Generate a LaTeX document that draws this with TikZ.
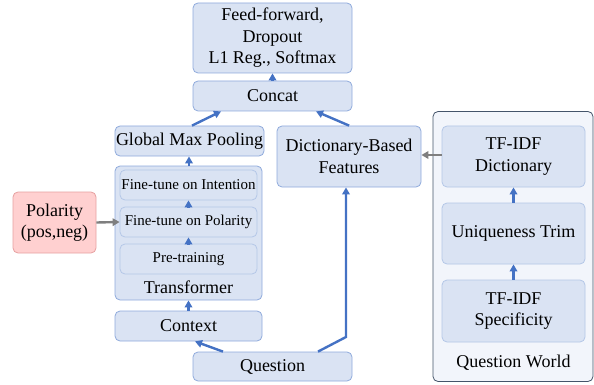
\documentclass[tikz,border=0pt]{standalone}
\usepackage{fontspec}
\newfontfamily\tnr{LiberationSerif}[Extension=.ttf, UprightFont=*-Regular, BoldFont=*-Bold]
\usetikzlibrary{arrows.meta}
\definecolor{boxfill}{HTML}{DAE3F3}
\definecolor{boxline}{HTML}{8FAADC}
\definecolor{innerline}{HTML}{B4C7E7}
\definecolor{polfill}{HTML}{FFD0D0}
\definecolor{polline}{HTML}{E6A0A0}
\definecolor{qwfill}{HTML}{F2F5FB}
\definecolor{qwline}{HTML}{44546A}
\definecolor{arrblue}{HTML}{4472C4}
\definecolor{arrgray}{HTML}{7F7F7F}
\tikzset{
  box/.style={draw=boxline, fill=boxfill, rounded corners=5pt, line width=0.8pt,
    inner sep=0pt, align=center, font=\tnr\fontsize{18}{21.5}\selectfont},
  innerbox/.style={box, draw=innerline, font=\tnr\fontsize{15}{17}\selectfont},
  lbl/.style={font=\tnr\fontsize{18}{20}\selectfont, inner sep=0pt},
  bluearr/.style={draw=arrblue, line width=2.4pt, -{Triangle[length=7pt,width=7.5pt]}},
  grayarr/.style={draw=arrgray, line width=2.4pt, -{Triangle[length=7pt,width=7.5pt]}},
}
\begin{document}
\begin{tikzpicture}[x=1pt,y=-1pt]
\useasboundingbox (0,0) rectangle (594,385);
% top column
\node[box, minimum width=159pt, minimum height=70pt] (ff) at (272.5,38) {Feed-forward,\\Dropout\\L1 Reg., Softmax};
\node[box, minimum width=159pt, minimum height=30pt] (concat) at (272.5,96) {Concat};
\node[box, minimum width=149pt, minimum height=30pt] (gmp) at (189.5,141) {Global Max Pooling};
% transformer
\node[box, minimum width=147pt, minimum height=134pt] (trans) at (188.5,233) {};
\node[lbl] (translabel) at (188.5,287) {Transformer};
\node[innerbox, minimum width=137pt, minimum height=30pt] (fti) at (188.5,185) {Fine-tune on Intention};
\node[innerbox, minimum width=137pt, minimum height=30pt] (ftp) at (188.5,222) {Fine-tune on Polarity};
\node[innerbox, minimum width=137pt, minimum height=30pt] (pre) at (188.5,259) {Pre-training};
\node[box, minimum width=147pt, minimum height=30pt] (context) at (188.5,326) {Context};
\node[box, minimum width=159pt, minimum height=29pt] (question) at (272.5,366.5) {Question};
% polarity
\node[box, draw=polline, fill=polfill, minimum width=83pt, minimum height=61pt] (polarity) at (54.5,222.5) {Polarity\\(pos,neg)};
% dictionary features
\node[box, minimum width=144pt, minimum height=61pt] (dbf) at (349,156.5) {Dictionary-Based\\Features};
% question world
\node[box, draw=qwline, fill=qwfill, minimum width=160pt, minimum height=270pt] (qw) at (513,246.5) {};
\node[lbl] (qwlabel) at (513.5,363) {Question World};
\node[box, draw=innerline, minimum width=143pt, minimum height=61pt] (tfd) at (513.5,156.5) {TF-IDF\\Dictionary};
\node[box, draw=innerline, minimum width=143pt, minimum height=61pt] (uniq) at (513.5,233.5) {Uniqueness Trim};
\node[box, draw=innerline, minimum width=143pt, minimum height=62pt] (tfs) at (513.5,311) {TF-IDF\\Specificity};
% connectors
\coordinate (bend) at (346,337);
\draw[bluearr] (concat.north) -- (ff.south);
\draw[bluearr] ([xshift=2.5pt]gmp.north) -- ([xshift=-51.5pt]concat.south);
\draw[bluearr] ([xshift=72.5pt]dbf.north west) -- ([xshift=43.5pt]concat.south);
\draw[bluearr] ([xshift=0.5pt]trans.north) -- ([xshift=-0.5pt]gmp.south);
\draw[bluearr] (pre.north) -- (ftp.south);
\draw[bluearr] (ftp.north) -- (fti.south);
\draw[bluearr] (context.north) -- (trans.south);
\draw[bluearr] ([xshift=-49.5pt]question.north) -- ([xshift=6.5pt]context.south);
\draw[bluearr] ([xshift=45.5pt]question.north) -- (bend) -- (bend |- dbf.south);
\draw[bluearr] (tfs.north) -- (uniq.south);
\draw[bluearr] (uniq.north) -- (tfd.south);
\draw[grayarr] ([yshift=1.5pt]tfd.west) -- ([yshift=1.5pt]dbf.east);
\draw[grayarr] (polarity.east) -- (ftp.west);
\end{tikzpicture}
\end{document}
